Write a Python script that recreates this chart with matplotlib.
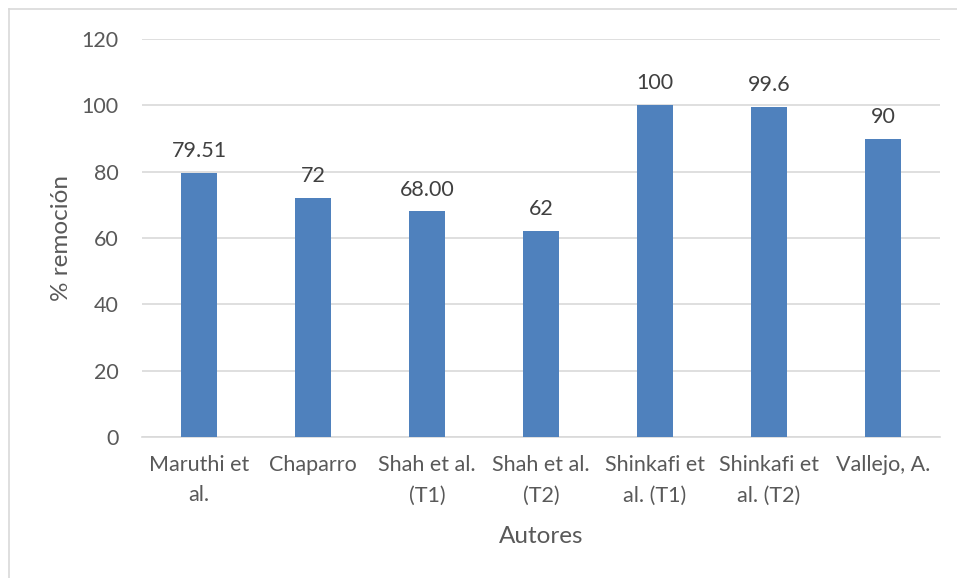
import matplotlib
matplotlib.use("Agg")
import matplotlib.pyplot as plt
from matplotlib.lines import Line2D

autores = ["Maruthi et\nal.", "Chaparro", "Shah et al.\n(T1)", "Shah et al.\n(T2)",
           "Shinkafi et\nal. (T1)", "Shinkafi et\nal. (T2)", "Vallejo, A."]
remocion = [79.51, 72, 68.00, 62, 100, 99.6, 90]
etiquetas = ["79.51", "72", "68.00", "62", "100", "99.6", "90"]
yticks = [0, 20, 40, 60, 80, 100, 120]

plt.rcParams["font.family"] = ["Lato", "DejaVu Sans"]
W, H = 957, 578
fig = plt.figure(figsize=(W / 100, H / 100), dpi=100)
ax = fig.add_axes([142 / W, 1 - 437 / H, (940 - 142) / W, (437 - 39) / H])

x = range(len(autores))
ax.bar(x, remocion, width=0.32, color="#4F81BD", zorder=3)
for xi, v, lab in zip(x, remocion, etiquetas):
    ax.text(xi, v + 3.6, lab, ha="center", va="bottom", fontsize=15.5, color="#404040")

ax.set_xlim(-0.5, len(autores) - 0.5)
ax.set_ylim(0, 120)
ax.set_yticks(yticks)
ax.set_xticks(list(x))
ax.set_xticklabels(autores, fontsize=15.5, color="#595959", linespacing=1.65)
ax.tick_params(axis="y", labelsize=15.5, colors="#595959", length=0, pad=17)
ax.tick_params(axis="x", length=0, pad=13)
ax.grid(axis="y", color="#d9d9d9", linewidth=1.2, zorder=0)
for s in ["top", "right", "left"]:
    ax.spines[s].set_visible(False)
ax.spines["bottom"].set_color("#d9d9d9")
ax.spines["bottom"].set_linewidth(1.2)

ax.set_ylabel("% remoción", fontsize=17.5, color="#595959", labelpad=7)
ax.set_xlabel("Autores", fontsize=17.5, color="#595959", labelpad=15)

# chart border (partly cropped in the reference)
fig.add_artist(Line2D([9 / W, 9 / W], [0, 1 - 9 / H], color="#d9d9d9", lw=1.2))
fig.add_artist(Line2D([9 / W, 1], [1 - 9 / H, 1 - 9 / H], color="#d9d9d9", lw=1.2))

fig.savefig("out.png", dpi=100)
